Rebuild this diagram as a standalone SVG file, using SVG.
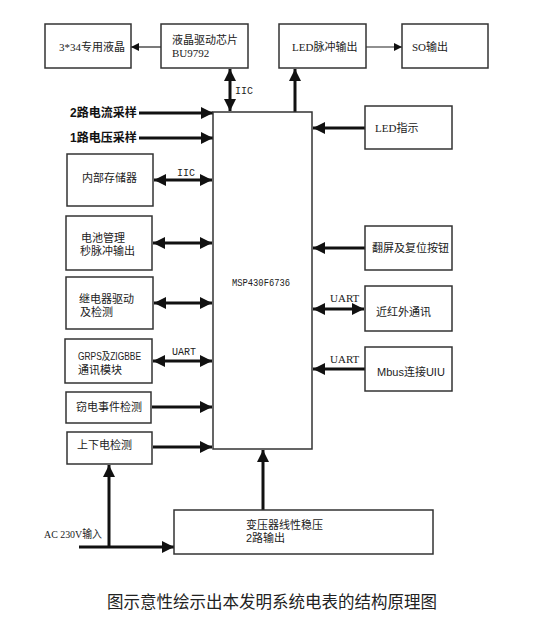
<svg xmlns="http://www.w3.org/2000/svg" width="547" height="630" viewBox="0 0 547 630">
<style>
.box{fill:#fff;stroke:#333;stroke-width:1.5}
.t{font-family:"Liberation Serif","Noto Sans CJK SC",serif;font-size:11px;fill:#222}
.s{font-family:"Liberation Sans","Noto Sans CJK SC",sans-serif;font-size:11px;fill:#222}
.b{font-family:"Liberation Sans","Noto Sans CJK SC",sans-serif;font-size:12px;font-weight:bold;fill:#111}
.m{font-family:"Liberation Mono","Noto Sans CJK SC",monospace;font-size:10px;fill:#222}
.thin{stroke:#222;stroke-width:1.2;fill:none}
.thick{stroke:#111;stroke-width:3;fill:none}
</style>
<defs>
<marker id="ah" viewBox="0 0 10 10" refX="10" refY="5" markerWidth="10" markerHeight="8" markerUnits="userSpaceOnUse" orient="auto"><path d="M0,0L10,5L0,10z" fill="#111"/></marker>
<marker id="AH" viewBox="0 0 10 10" refX="10" refY="5" markerWidth="13" markerHeight="12" markerUnits="userSpaceOnUse" orient="auto"><path d="M0,0L10,5L0,10z" fill="#111"/></marker>
<marker id="AHS" viewBox="0 0 10 10" refX="10" refY="5" markerWidth="13" markerHeight="12" markerUnits="userSpaceOnUse" orient="auto-start-reverse"><path d="M0,0L10,5L0,10z" fill="#111"/></marker>
</defs>
<rect width="547" height="630" fill="#fff"/>

<g id="connectors">
<line class="thin" x1="161" y1="47" x2="131" y2="47" marker-end="url(#ah)"/>
<line class="thin" x1="366" y1="47" x2="402" y2="47" marker-end="url(#ah)"/>
<line class="thick" x1="230" y1="69" x2="230" y2="111" marker-start="url(#AHS)" marker-end="url(#AH)"/>
<line class="thick" x1="295" y1="112" x2="295" y2="69" marker-end="url(#AH)"/>
<line class="thick" x1="139" y1="113" x2="213" y2="113" marker-end="url(#AH)"/>
<line class="thick" x1="139" y1="138" x2="213" y2="138" marker-end="url(#AH)"/>
<line class="thick" x1="154" y1="180" x2="212" y2="180" marker-start="url(#AHS)" marker-end="url(#AH)"/>
<line class="thick" x1="153" y1="243" x2="212" y2="243" marker-start="url(#AHS)" marker-end="url(#AH)"/>
<line class="thick" x1="154" y1="303" x2="212" y2="303" marker-start="url(#AHS)" marker-end="url(#AH)"/>
<line class="thick" x1="153" y1="361" x2="212" y2="361" marker-start="url(#AHS)" marker-end="url(#AH)"/>
<line class="thick" x1="152" y1="407" x2="212" y2="407" marker-end="url(#AH)"/>
<line class="thick" x1="153" y1="447" x2="212" y2="447" marker-end="url(#AH)"/>
<line class="thick" x1="365" y1="128" x2="313" y2="128" marker-end="url(#AH)"/>
<line class="thick" x1="365" y1="248" x2="313" y2="248" marker-end="url(#AH)"/>
<line class="thick" x1="313" y1="309" x2="364" y2="309" marker-start="url(#AHS)" marker-end="url(#AH)"/>
<line class="thick" x1="365" y1="369" x2="313" y2="369" marker-end="url(#AH)"/>
<line class="thick" x1="263" y1="510" x2="263" y2="450" marker-end="url(#AH)"/>
<line class="thick" x1="79" y1="547" x2="174" y2="547" marker-end="url(#AH)"/>
<line class="thick" x1="109" y1="547" x2="109" y2="465" marker-end="url(#AH)"/>
<text class="m" x="235" y="94">IIC</text>
<text class="m" x="177" y="176">IIC</text>
<text class="m" x="172" y="355">UART</text>
<text class="t" x="330" y="302" font-size="10">UART</text>
<text class="t" x="330" y="363" font-size="10">UART</text>
</g>

<g id="lcd"><rect class="box" x="45" y="24" width="86" height="44"/><text class="t" x="59" y="51">3*34专用液晶</text></g>
<g id="lcd-driver"><rect class="box" x="161" y="24" width="87" height="44"/><text class="t" x="172" y="44">液晶驱动芯片</text><text class="t" x="172" y="57">BU9792</text></g>
<g id="led-pulse"><rect class="box" x="279" y="24" width="87" height="44"/><text class="t" x="292" y="51">LED脉冲输出</text></g>
<g id="so-out"><rect class="box" x="402" y="24" width="86" height="44"/><text class="t" x="412" y="51">SO输出</text></g>

<g id="current"><text class="b" x="70" y="117">2路电流采样</text></g>
<g id="voltage"><text class="b" x="70" y="142">1路电压采样</text></g>

<g id="mcu"><rect class="box" x="213" y="112" width="99" height="337"/><text class="m" x="232" y="286" font-size="9.5" textLength="58" lengthAdjust="spacingAndGlyphs">MSP430F6736</text></g>

<g id="storage"><rect class="box" x="67" y="154" width="86" height="52"/><text class="s" x="82" y="182">内部存储器</text></g>
<g id="battery"><rect class="box" x="66" y="216" width="86" height="54"/><text class="s" x="81" y="242">电池管理</text><text class="s" x="80" y="255">秒脉冲输出</text></g>
<g id="relay"><rect class="box" x="66" y="277" width="87" height="52"/><text class="s" x="79" y="303">继电器驱动</text><text class="s" x="80" y="316">及检测</text></g>
<g id="gprs"><rect class="box" x="65" y="339" width="87" height="44"/><text class="s" x="78" y="360" font-size="10" textLength="63" lengthAdjust="spacingAndGlyphs">GRPS及ZIGBBE</text><text class="s" x="78" y="374">通讯模块</text></g>
<g id="theft"><rect class="box" x="66" y="392" width="85" height="31"/><text class="s" x="76" y="411">窃电事件检测</text></g>
<g id="power-detect"><rect class="box" x="67" y="432" width="85" height="32"/><text class="s" x="77" y="449">上下电检测</text></g>

<g id="led-ind"><rect class="box" x="365" y="106" width="87" height="43"/><text class="t" x="375" y="132">LED指示</text></g>
<g id="button"><rect class="box" x="365" y="226" width="87" height="44"/><text class="t" x="372" y="252">翻屏及复位按钮</text></g>
<g id="ir"><rect class="box" x="365" y="286" width="87" height="45"/><text class="s" x="376" y="316">近红外通讯</text></g>
<g id="mbus"><rect class="box" x="365" y="347" width="87" height="44"/><text class="s" x="377" y="376" font-size="12">Mbus连接UIU</text></g>

<g id="transformer"><rect class="box" x="174" y="510" width="259" height="44"/><text class="s" x="246" y="529">变压器线性稳压</text><text class="s" x="246" y="542">2路输出</text></g>
<g id="ac-in"><text class="t" x="44" y="538" font-size="10.5" textLength="58" lengthAdjust="spacingAndGlyphs">AC 230V输入</text></g>

<text x="107" y="608" font-family="Noto Sans CJK SC, sans-serif" font-size="16.5" fill="#222">图示意性绘示出本发明系统电表的结构原理图</text>
</svg>
